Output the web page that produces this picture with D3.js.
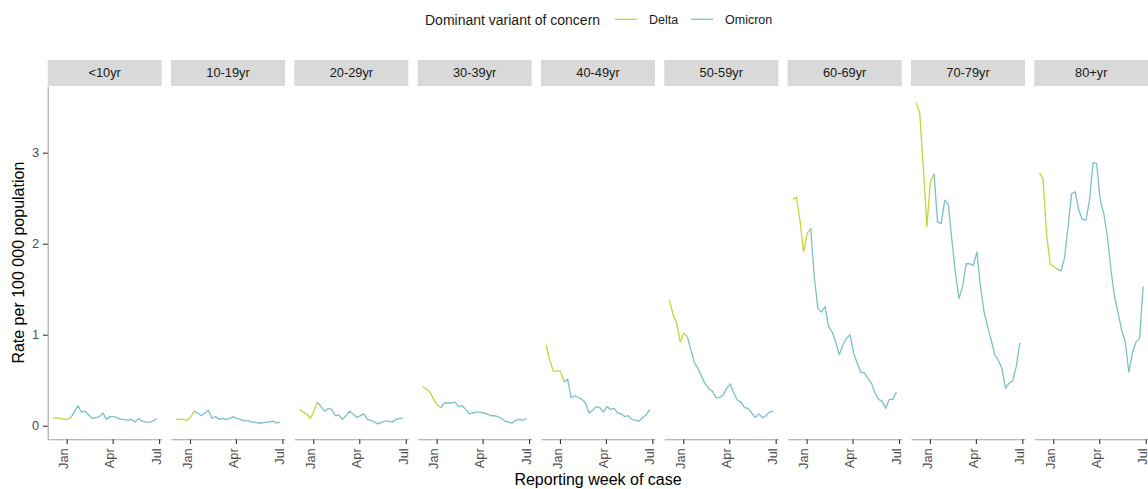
<!DOCTYPE html>
<html>
<head>
<meta charset="utf-8">
<script src="https://cdn.jsdelivr.net/npm/d3@7"></script>
<style>
body { margin: 0; background: #fff; }
text { font-family: "Liberation Sans", Arial, sans-serif; }
</style>
</head>
<body>
<script>
var ageGroups = ["<10yr", "10-19yr", "20-29yr", "30-39yr", "40-49yr", "50-59yr", "60-69yr", "70-79yr", "80+yr"];

var weeks = [
  "2021-12-05", "2021-12-12", "2021-12-19", "2021-12-26", "2022-01-02", "2022-01-09",
  "2022-01-16", "2022-01-23", "2022-01-30", "2022-02-06", "2022-02-13", "2022-02-20",
  "2022-02-27", "2022-03-06", "2022-03-13", "2022-03-20", "2022-03-27", "2022-04-03",
  "2022-04-10", "2022-04-17", "2022-04-24", "2022-05-01", "2022-05-08", "2022-05-15",
  "2022-05-22", "2022-05-29", "2022-06-05", "2022-06-12", "2022-06-19", "2022-06-26"
];

var variant = [
  "Delta", "Delta", "Delta", "Delta", "Delta", "Omicron",
  "Omicron", "Omicron", "Omicron", "Omicron", "Omicron", "Omicron",
  "Omicron", "Omicron", "Omicron", "Omicron", "Omicron", "Omicron",
  "Omicron", "Omicron", "Omicron", "Omicron", "Omicron", "Omicron",
  "Omicron", "Omicron", "Omicron", "Omicron", "Omicron", "Omicron"
];

var rateUnder10 = [0.08, 0.09, 0.08, 0.07, 0.07, 0.09, 0.15, 0.22, 0.15, 0.16, 0.12, 0.08, 0.09, 0.10, 0.14,
  0.07, 0.10, 0.10, 0.09, 0.07, 0.07, 0.06, 0.07, 0.04, 0.08, 0.05, 0.04, 0.04, 0.05, 0.08];
var rate10to19 = [0.07, 0.07, 0.07, 0.06, 0.09, 0.16, 0.14, 0.11, 0.14, 0.17, 0.08, 0.10, 0.07, 0.08, 0.07,
  0.08, 0.10, 0.08, 0.07, 0.05, 0.06, 0.04, 0.04, 0.03, 0.03, 0.04, 0.04, 0.05, 0.03, 0.04];
var rate20to29 = [0.18, 0.15, 0.13, 0.08, 0.16, 0.26, 0.21, 0.16, 0.19, 0.18, 0.11, 0.12, 0.07, 0.11, 0.16,
  0.13, 0.09, 0.11, 0.13, 0.07, 0.06, 0.04, 0.02, 0.04, 0.05, 0.05, 0.04, 0.07, 0.08, 0.08];
var rate30to39 = [0.43, 0.40, 0.37, 0.29, 0.23, 0.20, 0.25, 0.25, 0.25, 0.26, 0.21, 0.22, 0.18, 0.13, 0.14,
  0.15, 0.15, 0.14, 0.13, 0.11, 0.11, 0.10, 0.08, 0.05, 0.04, 0.03, 0.06, 0.07, 0.06, 0.08];
var rate40to49 = [0.89, 0.72, 0.60, 0.60, 0.60, 0.48, 0.51, 0.31, 0.33, 0.31, 0.29, 0.25, 0.14, 0.17, 0.21,
  0.20, 0.15, 0.21, 0.18, 0.19, 0.14, 0.13, 0.10, 0.11, 0.07, 0.06, 0.05, 0.09, 0.12, 0.18];
var rate50to59 = [1.38, 1.22, 1.13, 0.92, 1.02, 0.98, 0.83, 0.69, 0.63, 0.54, 0.46, 0.41, 0.38, 0.31, 0.31,
  0.34, 0.41, 0.46, 0.36, 0.28, 0.26, 0.20, 0.19, 0.14, 0.09, 0.13, 0.09, 0.11, 0.15, 0.16];
var rate60to69 = [2.49, 2.51, 2.26, 1.91, 2.11, 2.17, 1.64, 1.29, 1.25, 1.31, 1.09, 1.03, 0.92, 0.78, 0.89,
  0.96, 1.00, 0.80, 0.69, 0.59, 0.58, 0.52, 0.47, 0.36, 0.29, 0.27, 0.19, 0.29, 0.29, 0.37];
var rate70to79 = [3.55, 3.44, 2.85, 2.19, 2.68, 2.77, 2.24, 2.22, 2.48, 2.43, 2.04, 1.67, 1.40, 1.53, 1.78,
  1.78, 1.76, 1.91, 1.53, 1.25, 1.09, 0.94, 0.78, 0.72, 0.63, 0.41, 0.47, 0.49, 0.65, 0.91];
var rate80plus = [2.78, 2.71, 2.10, 1.78, 1.75, 1.72, 1.70, 1.84, 2.19, 2.55, 2.57, 2.37, 2.27, 2.26, 2.48,
  2.89, 2.88, 2.48, 2.33, 2.08, 1.71, 1.42, 1.24, 1.05, 0.92, 0.59, 0.80, 0.92, 0.96, 1.53];

var rates = [rateUnder10, rate10to19, rate20to29, rate30to39, rate40to49, rate50to59, rate60to69, rate70to79, rate80plus];

var variants = ["Delta", "Omicron"];
var yTicks = [0, 1, 2, 3];
var xTicks = ["2022-01-01", "2022-04-01", "2022-07-01"];

var colors = { Delta: "#c3d538", Omicron: "#7ac1ca" };

var width = 1148,
  height = 489;

var panelTop = 86,
  panelBottom = 439.3,
  stripTop = 60;

var chart = d3.select("body").append("svg").attr("width", width).attr("height", height);

var parse = d3.utcParse("%Y-%m-%d");
var dates = weeks.map(parse);

// panels side by side
var panel = d3.scaleBand().domain(ageGroups).range([47.7, 1148.3]).paddingInner(0.0754);

// ggplot style 5% expansion of the date range
var dMin = d3.min(dates),
  dMax = d3.max(dates);
var pad = (dMax - dMin) * 0.05;
var x = d3
  .scaleUtc()
  .domain([new Date(+dMin - pad), new Date(+dMax + pad)])
  .range([0, panel.bandwidth()]);

var y = d3.scaleLinear().domain([-0.149, 3.733]).range([panelBottom, panelTop]);

var line = d3
  .line()
  .x(function (d) {
    return x(d.date);
  })
  .y(function (d) {
    return y(d.value);
  });

ageGroups.forEach(function (age, k) {
  var g = chart.append("g").attr("transform", "translate(" + panel(age) + ",0)");

  g.append("rect")
    .attr("x", 0)
    .attr("y", stripTop)
    .attr("width", panel.bandwidth())
    .attr("height", panelTop - stripTop)
    .attr("fill", "#d9d9d9");

  g.append("text")
    .attr("x", panel.bandwidth() / 2)
    .attr("y", (stripTop + panelTop) / 2)
    .attr("dy", "0.35em")
    .attr("text-anchor", "middle")
    .attr("font-size", 12.8)
    .attr("fill", "#1a1a1a")
    .text(age);

  var points = dates.map(function (d, i) {
    return { date: d, value: rates[k][i], variant: variant[i] };
  });

  // each segment takes the colour of its starting week
  var runs = [];
  var cur = null;
  for (var i = 0; i < points.length - 1; i++) {
    if (!cur || cur.variant != points[i].variant) {
      cur = { variant: points[i].variant, pts: [points[i]] };
      runs.push(cur);
    }
    cur.pts.push(points[i + 1]);
  }

  g.selectAll("path.series")
    .data(runs)
    .enter()
    .append("path")
    .attr("class", "series")
    .attr("d", function (r) {
      return line(r.pts);
    })
    .attr("fill", "none")
    .attr("stroke", function (r) {
      return colors[r.variant];
    })
    .attr("stroke-width", 1.3)
    .attr("stroke-linejoin", "round");

  var xAxis = d3
    .axisBottom(x)
    .tickValues(xTicks.map(parse))
    .tickFormat(d3.utcFormat("%b"))
    .tickSize(4.7)
    .tickSizeOuter(0)
    .tickPadding(4);

  var xa = g
    .append("g")
    .attr("transform", "translate(0," + panelBottom + ")")
    .call(xAxis);
  xa.select(".domain").attr("stroke", "#a3a3a3").attr("stroke-width", 1.1);
  xa.selectAll(".tick line").attr("stroke", "#333").attr("stroke-width", 1.1);
  xa.selectAll(".tick text")
    .attr("font-size", 12.8)
    .attr("fill", "#4d4d4d")
    .attr("font-family", "Liberation Sans, Arial, sans-serif")
    .attr("transform", "rotate(-90)")
    .attr("text-anchor", "end")
    .attr("x", -9)
    .attr("y", 0)
    .attr("dy", "0.1em");

  if (k == 0) {
    var yAxis = d3
      .axisLeft(y)
      .tickValues(yTicks)
      .tickFormat(d3.format("d"))
      .tickSize(4.7)
      .tickSizeOuter(0)
      .tickPadding(4);
    var ya = g.append("g").call(yAxis);
    ya.select(".domain").attr("stroke", "#a3a3a3").attr("stroke-width", 1.1);
    ya.selectAll(".tick line").attr("stroke", "#333").attr("stroke-width", 1.1);
    ya.selectAll(".tick text")
      .attr("font-size", 12.8)
      .attr("fill", "#4d4d4d")
      .attr("font-family", "Liberation Sans, Arial, sans-serif");
  }
});

// axis titles
chart
  .append("text")
  .attr("x", (panel.range()[0] + panel.range()[1]) / 2)
  .attr("y", 485)
  .attr("text-anchor", "middle")
  .attr("font-size", 16)
  .attr("fill", "#000")
  .text("Reporting week of case");

chart
  .append("text")
  .attr("transform", "translate(24," + (panelTop + panelBottom) / 2 + ") rotate(-90)")
  .attr("text-anchor", "middle")
  .attr("font-size", 16)
  .attr("fill", "#000")
  .text("Rate per 100 000 population");

// legend on top
var legend = chart.append("g").attr("transform", "translate(425,0)");

legend
  .append("text")
  .attr("x", 0)
  .attr("y", 25)
  .attr("font-size", 14)
  .attr("fill", "#1a1a1a")
  .text("Dominant variant of concern");

var keyX = [190, 266];

var keys = legend
  .selectAll("g.key")
  .data(variants)
  .enter()
  .append("g")
  .attr("class", "key")
  .attr("transform", function (d, i) {
    return "translate(" + keyX[i] + ",0)";
  });

keys
  .append("line")
  .attr("x1", 0)
  .attr("x2", 22)
  .attr("y1", 19.3)
  .attr("y2", 19.3)
  .attr("stroke", function (d) {
    return colors[d];
  })
  .attr("stroke-width", 1.3);

keys
  .append("text")
  .attr("x", 34)
  .attr("y", 24)
  .attr("font-size", 12.5)
  .attr("fill", "#1a1a1a")
  .text(function (d) {
    return d;
  });
</script>
</body>
</html>
